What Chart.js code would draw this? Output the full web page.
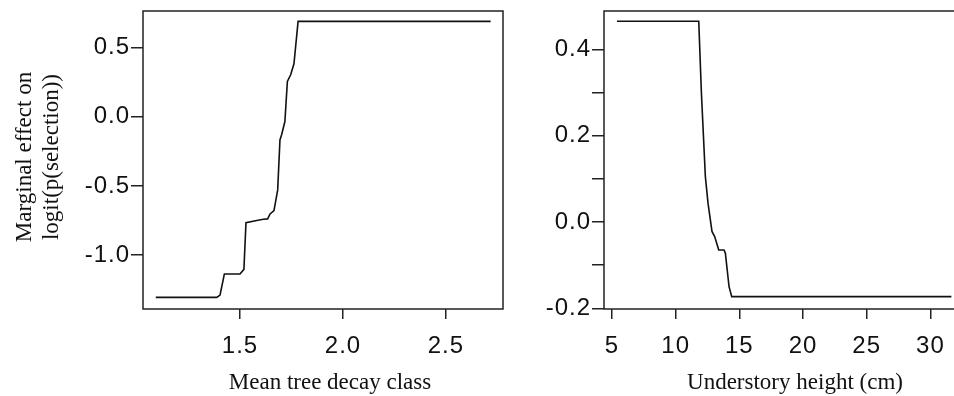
<!DOCTYPE html>
<html>
<head>
<meta charset="utf-8">
<script src="https://cdn.jsdelivr.net/npm/chart.js@4.4.4/dist/chart.umd.min.js"></script>
<style>
  html, body { margin: 0; padding: 0; background: #fff; overflow: hidden; width: 954px; height: 396px; }
  #wrap { position: relative; width: 954px; height: 396px; }
  canvas { position: absolute; top: 0; }
  #decayChart { left: 0; }
  #heightChart { left: 520px; }
  .title { position: absolute; font-family: "Liberation Serif", "Times New Roman", serif; font-size: 23px; color: #111; white-space: nowrap; line-height: 23px; }
  .xtitle { top: 370px; transform: translateX(-50%); }
  .ytitle { width: 260px; height: 54px; line-height: 27px; text-align: center; left: -93px; top: 130px; transform: rotate(-90deg); }
</style>
</head>
<body>
<div id="wrap">
  <canvas id="decayChart" width="520" height="396"></canvas>
  <canvas id="heightChart" width="448" height="396"></canvas>
  <div class="title ytitle">Marginal effect on<br>logit(p(selection))</div>
  <div class="title xtitle" style="left:330px">Mean tree decay class</div>
  <div class="title xtitle" style="left:795px">Understory height (cm)</div>
</div>
<script>
// Left panel: mean tree decay class
const decayX = [1.091, 1.387, 1.403, 1.424, 1.500, 1.519, 1.529, 1.581, 1.613, 1.634, 1.646, 1.665, 1.683, 1.694, 1.702, 1.718, 1.730, 1.746, 1.762, 1.782, 2.717];
const decayY = [-1.307, -1.307, -1.290, -1.138, -1.138, -1.104, -0.766, -0.751, -0.741, -0.739, -0.703, -0.679, -0.529, -0.167, -0.130, -0.034, 0.256, 0.304, 0.384, 0.691, 0.691];
const decayXTicks = [1.5, 2.0, 2.5];
const decayYTicks = [-1.0, -0.5, 0.0, 0.5];

// Right panel: understory height
const heightX = [5.39, 11.81, 12.02, 12.33, 12.54, 12.85, 13.06, 13.38, 13.79, 13.90, 14.19, 14.40, 31.65];
const heightY = [0.465, 0.465, 0.298, 0.105, 0.043, -0.022, -0.034, -0.065, -0.065, -0.072, -0.150, -0.173, -0.173];
const heightXTicks = [5, 10, 15, 20, 25, 30];
const heightYTicks = [-0.2, -0.1, 0.0, 0.1, 0.2, 0.3, 0.4];

const ink = '#222';
const tickFont = { family: '"Liberation Sans", Arial, sans-serif', size: 24 };

// box around the plot region, like R's box()
const boxPlugin = {
  id: 'box',
  beforeDraw(chart) {
    chart.ctx.letterSpacing = '1px';
  },
  afterDraw(chart) {
    const { ctx, chartArea: a } = chart;
    ctx.save();
    ctx.strokeStyle = ink;
    ctx.lineWidth = 1.5;
    ctx.strokeRect(a.left, a.top, a.right - a.left, a.bottom - a.top);
    ctx.restore();
  }
};

function noPad(s) {
  s.paddingTop = 0;
  s.paddingBottom = 0;
  s.paddingLeft = 0;
  s.paddingRight = 0;
}

function makePanel(el, xs, ys, opts) {
  const points = xs.map((x, i) => ({ x, y: ys[i] }));
  return new Chart(el, {
    type: 'line',
    data: {
      datasets: [{
        data: points,
        borderColor: '#111',
        borderWidth: 1.6,
        pointRadius: 0,
        tension: 0,
        fill: false
      }]
    },
    options: {
      responsive: false,
      animation: false,
      devicePixelRatio: 1,
      layout: { autoPadding: false, padding: { left: 0, top: 11, right: opts.padRight, bottom: 0 } },
      plugins: { legend: { display: false }, tooltip: { enabled: false } },
      scales: {
        x: {
          type: 'linear',
          min: opts.xMin, max: opts.xMax,
          border: { display: false },
          grid: { drawOnChartArea: false, drawTicks: true, tickLength: 10, color: ink, lineWidth: 1.5 },
          afterBuildTicks: s => { s.ticks = opts.xTicks.map(v => ({ value: v })); },
          afterFit: s => { s.height = 87; noPad(s); },
          ticks: {
            autoSkip: false, maxRotation: 0, padding: 13,
            color: '#111', font: tickFont,
            callback: opts.xFormat
          }
        },
        y: {
          type: 'linear',
          min: opts.yMin, max: opts.yMax,
          border: { display: false },
          grid: { drawOnChartArea: false, drawTicks: true, tickLength: 12, color: ink, lineWidth: 1.5 },
          afterBuildTicks: s => { s.ticks = opts.yTicks.map(v => ({ value: v })); },
          afterFit: s => { s.width = opts.yWidth; noPad(s); },
          ticks: {
            autoSkip: false, padding: 1,
            color: '#111', font: tickFont,
            callback: opts.yFormat
          }
        }
      }
    },
    plugins: [boxPlugin]
  });
}

makePanel(document.getElementById('decayChart'), decayX, decayY, {
  xMin: 1.029, xMax: 2.777, yMin: -1.391, yMax: 0.766,
  xTicks: decayXTicks, yTicks: decayYTicks,
  xFormat: v => v.toFixed(1),
  yFormat: v => v.toFixed(1),
  yWidth: 143, padRight: 17
});

makePanel(document.getElementById('heightChart'), heightX, heightY, {
  xMin: 4.37, xMax: 32.64, yMin: -0.2016, yMax: 0.4886,
  xTicks: heightXTicks, yTicks: heightYTicks,
  xFormat: v => String(v),
  yFormat: v => (Math.round(v * 10) % 2 === 0 ? v.toFixed(1) : ''),
  yWidth: 84, padRight: 4
});
</script>
</body>
</html>
